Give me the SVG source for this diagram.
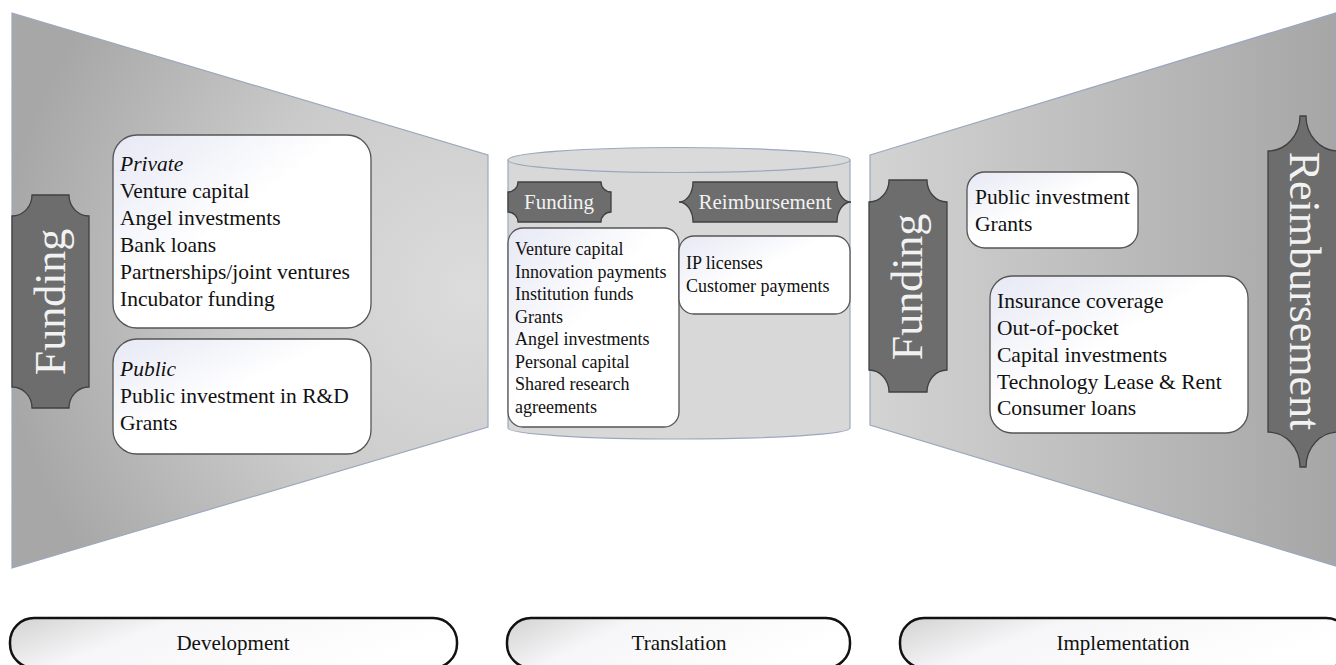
<svg xmlns="http://www.w3.org/2000/svg" width="1336" height="665" viewBox="0 0 1336 665">
  <defs>
    <radialGradient id="gLeft" gradientUnits="userSpaceOnUse" cx="470" cy="290" r="470">
      <stop offset="0" stop-color="#dcdcdc"/>
      <stop offset="0.5" stop-color="#cbcbcb"/>
      <stop offset="1" stop-color="#a7a7a7"/>
    </radialGradient>
    <linearGradient id="gRight" gradientUnits="userSpaceOnUse" x1="870" y1="0" x2="1336" y2="0">
      <stop offset="0" stop-color="#d3d3d3"/>
      <stop offset="1" stop-color="#a6a6a6"/>
    </linearGradient>
    <linearGradient id="gBox" x1="0" y1="0" x2="1" y2="1">
      <stop offset="0" stop-color="#e6e8f4"/>
      <stop offset="0.45" stop-color="#ffffff"/>
      <stop offset="1" stop-color="#ffffff"/>
    </linearGradient>
    <linearGradient id="gPill" x1="0" y1="0" x2="1" y2="0.3">
      <stop offset="0" stop-color="#d2d2d2"/>
      <stop offset="0.35" stop-color="#f6f6f8"/>
      <stop offset="1" stop-color="#ffffff"/>
    </linearGradient>
    <style>
      .panel{stroke:#9aa8bf;stroke-width:1.2}
      .box{fill:url(#gBox);stroke:#555;stroke-width:1.3}
      .tab{fill:#6d6d6d;stroke:#404040;stroke-width:1.3}
      .pill{fill:url(#gPill);stroke:#111;stroke-width:2.5}
      .t{font-family:"Liberation Serif","Times New Roman",serif;fill:#111}
      .tl{font-size:21.5px}
      .ts{font-size:18px}
      .it{font-style:italic}
      .tw{font-family:"Liberation Serif","Times New Roman",serif;fill:#f2f2f2}
      .big{font-size:44px}
      .mid{font-size:21px}
      .lab{font-size:21px;text-anchor:middle}
    </style>
  </defs>

  <g id="development-panel">
    <polygon class="panel" points="12,13 488,155 488,427 12,568" fill="url(#gLeft)"/>
  </g>
  <g id="implementation-panel">
    <polygon class="panel" points="870,155 1336,13 1336,566 870,425" fill="url(#gRight)"/>
  </g>

  <g id="translation-cylinder">
    <path class="panel" fill="#d8d8d8" d="M508,160 L508,428 A171,11 0 0 0 850,428 L850,160 Z"/>
    <ellipse class="panel" cx="679" cy="160" rx="171" ry="12.5" fill="#dadada"/>
  </g>

  <g id="dev-funding-tab">
    <path class="tab" d="M32,195 L69,195 A20,21 0 0 0 89,216 L89,387 A20,21 0 0 0 69,408 L32,408 A20,21 0 0 0 12,387 L12,216 A20,21 0 0 0 32,195 Z"/>
    <text class="tw big" transform="translate(65,302) rotate(-90)" text-anchor="middle">Funding</text>
  </g>

  <g id="dev-private">
    <rect class="box" x="113" y="135" width="258" height="193" rx="24"/>
    <text class="t tl" x="120">
      <tspan class="it" x="120" y="171">Private</tspan>
      <tspan x="120" y="198">Venture capital</tspan>
      <tspan x="120" y="225">Angel investments</tspan>
      <tspan x="120" y="252">Bank loans</tspan>
      <tspan x="120" y="279">Partnerships/joint ventures</tspan>
      <tspan x="120" y="306">Incubator funding</tspan>
    </text>
  </g>

  <g id="dev-public">
    <rect class="box" x="113" y="339" width="258" height="115" rx="24"/>
    <text class="t tl">
      <tspan class="it" x="120" y="376">Public</tspan>
      <tspan x="120" y="403">Public investment in R&amp;D</tspan>
      <tspan x="120" y="430">Grants</tspan>
    </text>
  </g>

  <g id="tr-funding-tab">
    <path class="tab" d="M518,182 L601,182 A10,10 0 0 0 611,192 L611,212 A10,10 0 0 0 601,222 L518,222 A10,10 0 0 0 508,212 L508,192 A10,10 0 0 0 518,182 Z"/>
    <text class="tw mid" x="559" y="209" text-anchor="middle">Funding</text>
  </g>

  <g id="tr-reimb-tab">
    <path class="tab" d="M693,182 L837,182 A14,20 0 0 0 851,202 A14,20 0 0 0 837,222 L693,222 A14,20 0 0 0 679,202 A14,20 0 0 0 693,182 Z"/>
    <text class="tw mid" x="765" y="209" text-anchor="middle">Reimbursement</text>
  </g>

  <g id="tr-funding-list">
    <rect class="box" x="508" y="228" width="171" height="199" rx="15"/>
    <text class="t ts">
      <tspan x="515" y="255">Venture capital</tspan>
      <tspan x="515" y="277.5">Innovation payments</tspan>
      <tspan x="515" y="300">Institution funds</tspan>
      <tspan x="515" y="322.5">Grants</tspan>
      <tspan x="515" y="345">Angel investments</tspan>
      <tspan x="515" y="367.5">Personal capital</tspan>
      <tspan x="515" y="390">Shared research</tspan>
      <tspan x="515" y="412.5">agreements</tspan>
    </text>
  </g>

  <g id="tr-reimb-list">
    <rect class="box" x="679" y="236" width="171" height="78" rx="15"/>
    <text class="t ts">
      <tspan x="686" y="269">IP licenses</tspan>
      <tspan x="686" y="292">Customer payments</tspan>
    </text>
  </g>

  <g id="impl-funding-tab">
    <path class="tab" d="M889,180 L927,180 A20,22 0 0 0 947,202 L947,370 A20,22 0 0 0 927,392 L889,392 A20,22 0 0 0 869,370 L869,202 A20,22 0 0 0 889,180 Z"/>
    <text class="tw big" transform="translate(922,287) rotate(-90)" text-anchor="middle">Funding</text>
  </g>

  <g id="impl-reimb-tab">
    <path class="tab" d="M1300,116 L1306,116 A32,35 0 0 0 1338,151 L1338,432 A32,35 0 0 0 1306,467 L1300,467 A32,35 0 0 0 1268,432 L1268,151 A32,35 0 0 0 1300,116 Z"/>
    <text class="tw big" transform="translate(1290,291) rotate(90)" text-anchor="middle">Reimbursement</text>
  </g>

  <g id="impl-public">
    <rect class="box" x="967" y="172" width="171" height="76" rx="18"/>
    <text class="t tl">
      <tspan x="975" y="204">Public investment</tspan>
      <tspan x="975" y="231">Grants</tspan>
    </text>
  </g>

  <g id="impl-reimb-list">
    <rect class="box" x="990" y="276" width="258" height="157" rx="22"/>
    <text class="t tl">
      <tspan x="997" y="308">Insurance coverage</tspan>
      <tspan x="997" y="335">Out-of-pocket</tspan>
      <tspan x="997" y="362">Capital investments</tspan>
      <tspan x="997" y="389">Technology Lease &amp; Rent</tspan>
      <tspan x="997" y="415">Consumer loans</tspan>
    </text>
  </g>

  <g id="stage-development">
    <rect class="pill" x="10" y="618" width="447" height="50" rx="24"/>
    <text class="t lab" x="233" y="650">Development</text>
  </g>
  <g id="stage-translation">
    <rect class="pill" x="507" y="618" width="343" height="50" rx="24"/>
    <text class="t lab" x="679" y="650">Translation</text>
  </g>
  <g id="stage-implementation">
    <rect class="pill" x="900" y="618" width="450" height="50" rx="24"/>
    <text class="t lab" x="1123" y="650">Implementation</text>
  </g>

  <g id="connectors"></g>
</svg>
